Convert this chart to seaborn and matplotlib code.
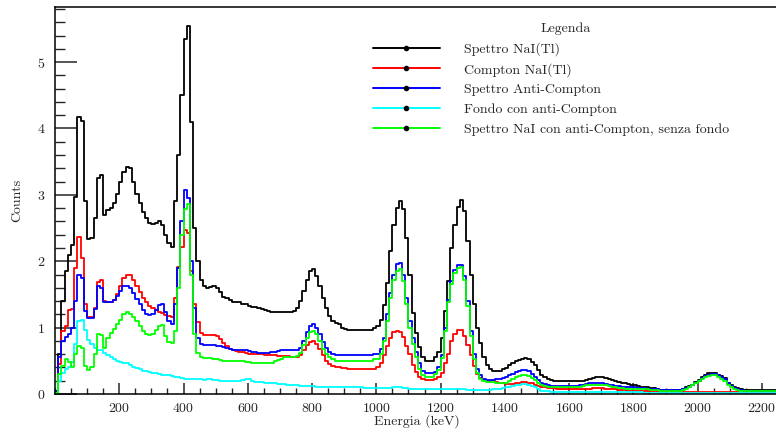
import numpy as np
import pandas as pd
import matplotlib
matplotlib.use("Agg")
import matplotlib.pyplot as plt
import seaborn as sns
from matplotlib.lines import Line2D
from matplotlib.ticker import MultipleLocator

BIN_WIDTH = 10  # keV

labels = [
    "Spettro NaI(Tl)",
    "Compton NaI(Tl)",
    "Spettro Anti-Compton",
    "Fondo con anti-Compton",
    "Spettro NaI con anti-Compton, senza fondo",
]
colors = ["#000000", "#ff0000", "#0000ff", "#00ffff", "#00ff00"]

black = [
    0.05, 0.6, 1.4, 1.85, 2.1, 2.25, 2.97, 4.18, 4.12, 2.9,
    2.33, 2.35, 2.65, 3.25, 3.3, 2.7, 2.77, 2.8, 2.88, 3.02,
    3.2, 3.35, 3.42, 3.4, 3.2, 3.02, 2.88, 2.74, 2.65, 2.57,
    2.56, 2.58, 2.6, 2.55, 2.4, 2.28, 2.22, 2.9, 3.6, 4.5,
    5.35, 5.54, 4.1, 2.5, 2.0, 1.72, 1.62, 1.6, 1.61, 1.62,
    1.6, 1.54, 1.46, 1.44, 1.42, 1.39, 1.38, 1.38, 1.36, 1.35,
    1.32, 1.31, 1.31, 1.30, 1.28, 1.26, 1.25, 1.24, 1.24, 1.23,
    1.24, 1.23, 1.24, 1.24, 1.25, 1.3, 1.4, 1.55, 1.72, 1.85,
    1.88, 1.78, 1.62, 1.45, 1.3, 1.18, 1.1, 1.07, 1.05, 1.0,
    0.98, 0.97, 0.96, 0.96, 0.96, 0.96, 0.96, 0.96, 0.97, 0.99,
    1.02, 1.11, 1.34, 1.67, 2.15, 2.54, 2.8, 2.91, 2.78, 2.35,
    1.8, 1.22, 0.92, 0.71, 0.56, 0.5, 0.49, 0.5, 0.55, 0.63,
    0.85, 1.25, 1.7, 2.2, 2.55, 2.82, 2.92, 2.75, 2.3, 1.8,
    1.35, 1.0, 0.77, 0.56, 0.44, 0.38, 0.35, 0.34, 0.35, 0.37,
    0.39, 0.43, 0.47, 0.49, 0.51, 0.53, 0.54, 0.52, 0.48, 0.44,
    0.36, 0.29, 0.25, 0.22, 0.21, 0.2, 0.2, 0.2, 0.2, 0.2,
    0.2, 0.2, 0.2, 0.2, 0.2, 0.21, 0.23, 0.24, 0.25, 0.25,
    0.25, 0.24, 0.22, 0.21, 0.19, 0.18, 0.17, 0.16, 0.15, 0.14,
    0.13, 0.12, 0.11, 0.1, 0.1, 0.09, 0.085, 0.07, 0.06, 0.06,
    0.06, 0.06, 0.06, 0.06, 0.06, 0.08, 0.1, 0.12, 0.14, 0.18,
    0.21, 0.25, 0.28, 0.31, 0.32, 0.32, 0.29, 0.27, 0.24, 0.17,
    0.13, 0.1, 0.085, 0.07, 0.06, 0.06, 0.06, 0.06, 0.06, 0.06,
    0.06, 0.06, 0.06, 0.06, 0.06,
]

red = [
    0.05, 0.45, 0.95, 1.03, 1.27, 1.28, 1.9, 2.37, 2.05, 1.35,
    1.16, 1.16, 1.3, 1.68, 1.72, 1.4, 1.39, 1.39, 1.42, 1.5,
    1.62, 1.75, 1.79, 1.79, 1.72, 1.63, 1.53, 1.45, 1.39, 1.33,
    1.3, 1.26, 1.24, 1.22, 1.19, 1.17, 1.16, 1.45, 1.92, 2.22,
    2.47, 2.42, 1.85, 1.35, 1.08, 0.92, 0.89, 0.89, 0.89, 0.89,
    0.87, 0.83, 0.77, 0.72, 0.68, 0.66, 0.65, 0.64, 0.63, 0.62,
    0.61, 0.61, 0.6, 0.6, 0.6, 0.59, 0.59, 0.58, 0.58, 0.57,
    0.57, 0.57, 0.57, 0.56, 0.56, 0.56, 0.58, 0.66, 0.74, 0.79,
    0.8, 0.76, 0.68, 0.58, 0.5, 0.45, 0.42, 0.41, 0.4, 0.39,
    0.39, 0.38, 0.38, 0.37, 0.37, 0.37, 0.37, 0.37, 0.37, 0.38,
    0.4, 0.46, 0.58, 0.72, 0.85, 0.93, 0.95, 0.94, 0.86, 0.72,
    0.6, 0.43, 0.33, 0.26, 0.22, 0.21, 0.21, 0.21, 0.22, 0.25,
    0.32, 0.46, 0.6, 0.8, 0.9, 0.96, 0.96, 0.88, 0.74, 0.58,
    0.42, 0.3, 0.24, 0.21, 0.19, 0.19, 0.19, 0.18, 0.17, 0.16,
    0.15, 0.15, 0.15, 0.16, 0.17, 0.18, 0.18, 0.17, 0.16, 0.14,
    0.12, 0.11, 0.1, 0.09, 0.09, 0.09, 0.08, 0.08, 0.08, 0.08,
    0.08, 0.08, 0.08, 0.08, 0.08, 0.08, 0.08, 0.09, 0.09, 0.09,
    0.09, 0.08, 0.08, 0.07, 0.07, 0.06, 0.06, 0.06, 0.05, 0.05,
    0.05, 0.05, 0.04, 0.04, 0.04, 0.04, 0.04, 0.04, 0.03, 0.03,
    0.03, 0.03, 0.03, 0.03, 0.03, 0.03, 0.03, 0.03, 0.03, 0.03,
    0.03, 0.03, 0.03, 0.03, 0.03, 0.03, 0.03, 0.03, 0.03, 0.03,
    0.03, 0.03, 0.03, 0.02, 0.02, 0.02, 0.02, 0.02, 0.02, 0.02,
    0.02, 0.02, 0.02, 0.02, 0.02,
]

blue = [
    0.05, 0.55, 0.8, 0.86, 0.91, 1.0, 1.4, 1.79, 1.75, 1.25,
    1.15, 1.15, 1.28, 1.62, 1.6, 1.38, 1.39, 1.39, 1.42, 1.48,
    1.55, 1.62, 1.63, 1.6, 1.52, 1.43, 1.36, 1.27, 1.2, 1.19,
    1.2, 1.26, 1.34, 1.35, 1.24, 1.1, 1.06, 1.35, 1.9, 2.6,
    3.07, 2.95, 2.0, 1.3, 0.85, 0.75, 0.74, 0.74, 0.74, 0.74,
    0.73, 0.72, 0.71, 0.7, 0.68, 0.67, 0.66, 0.66, 0.66, 0.66,
    0.65, 0.64, 0.63, 0.62, 0.62, 0.62, 0.62, 0.63, 0.64, 0.65,
    0.66, 0.66, 0.66, 0.66, 0.66, 0.67, 0.7, 0.8, 0.93, 1.03,
    1.06, 1.0, 0.9, 0.78, 0.7, 0.64, 0.61, 0.59, 0.58, 0.58,
    0.58, 0.58, 0.58, 0.58, 0.58, 0.58, 0.58, 0.58, 0.59, 0.6,
    0.6, 0.68, 0.85, 1.2, 1.52, 1.8, 1.96, 1.98, 1.8, 1.45,
    1.1, 0.85, 0.64, 0.46, 0.34, 0.31, 0.31, 0.31, 0.33, 0.4,
    0.58, 1.0, 1.42, 1.7, 1.87, 1.94, 1.95, 1.78, 1.4, 0.95,
    0.6, 0.38, 0.28, 0.23, 0.21, 0.21, 0.21, 0.22, 0.23, 0.24,
    0.26, 0.28, 0.3, 0.33, 0.35, 0.36, 0.36, 0.34, 0.3, 0.26,
    0.21, 0.17, 0.15, 0.13, 0.12, 0.12, 0.12, 0.12, 0.12, 0.12,
    0.12, 0.12, 0.12, 0.13, 0.14, 0.15, 0.16, 0.16, 0.16, 0.16,
    0.16, 0.15, 0.14, 0.13, 0.12, 0.12, 0.11, 0.11, 0.1, 0.1,
    0.1, 0.09, 0.09, 0.09, 0.08, 0.08, 0.07, 0.07, 0.06, 0.06,
    0.06, 0.06, 0.06, 0.06, 0.06, 0.07, 0.09, 0.11, 0.14, 0.17,
    0.2, 0.24, 0.27, 0.29, 0.3, 0.3, 0.28, 0.25, 0.22, 0.16,
    0.12, 0.09, 0.07, 0.06, 0.05, 0.05, 0.05, 0.05, 0.05, 0.05,
    0.05, 0.05, 0.05, 0.05, 0.05,
]

cyan = [
    0.02, 0.2, 0.32, 0.38, 0.4, 0.48, 0.75, 1.1, 1.12, 0.96,
    0.82, 0.76, 0.7, 0.66, 0.66, 0.62, 0.58, 0.56, 0.52, 0.5,
    0.48, 0.47, 0.46, 0.44, 0.41, 0.39, 0.37, 0.35, 0.34, 0.33,
    0.31, 0.31, 0.3, 0.29, 0.29, 0.28, 0.27, 0.26, 0.26, 0.24,
    0.23, 0.22, 0.23, 0.22, 0.22, 0.22, 0.21, 0.22, 0.22, 0.21,
    0.21, 0.2, 0.2, 0.2, 0.2, 0.19, 0.2, 0.2, 0.21, 0.22,
    0.22, 0.2, 0.18, 0.18, 0.18, 0.17, 0.17, 0.16, 0.16, 0.15,
    0.15, 0.15, 0.14, 0.14, 0.13, 0.13, 0.12, 0.12, 0.12, 0.12,
    0.12, 0.11, 0.11, 0.11, 0.11, 0.11, 0.1, 0.1, 0.1, 0.1,
    0.1, 0.1, 0.1, 0.1, 0.1, 0.1, 0.09, 0.09, 0.09, 0.09,
    0.09, 0.09, 0.09, 0.09, 0.09, 0.1, 0.1, 0.1, 0.09, 0.09,
    0.08, 0.08, 0.08, 0.08, 0.07, 0.07, 0.07, 0.07, 0.07, 0.07,
    0.07, 0.07, 0.07, 0.07, 0.07, 0.07, 0.07, 0.07, 0.06, 0.06,
    0.06, 0.06, 0.06, 0.06, 0.06, 0.06, 0.07, 0.07, 0.08, 0.09,
    0.1, 0.11, 0.12, 0.13, 0.14, 0.15, 0.15, 0.14, 0.12, 0.1,
    0.07, 0.05, 0.04, 0.04, 0.03, 0.03, 0.03, 0.03, 0.03, 0.03,
    0.03, 0.03, 0.03, 0.03, 0.03, 0.03, 0.03, 0.03, 0.03, 0.03,
    0.03, 0.03, 0.03, 0.03, 0.03, 0.03, 0.03, 0.03, 0.03, 0.03,
    0.03, 0.03, 0.03, 0.02, 0.02, 0.02, 0.02, 0.02, 0.02, 0.02,
    0.02, 0.02, 0.02, 0.02, 0.02, 0.02, 0.02, 0.02, 0.02, 0.02,
    0.02, 0.02, 0.02, 0.02, 0.02, 0.02, 0.02, 0.02, 0.02, 0.02,
    0.02, 0.02, 0.02, 0.02, 0.02, 0.02, 0.02, 0.02, 0.02, 0.02,
    0.02, 0.02, 0.02, 0.02, 0.02,
]

green = [
    0.02, 0.3, 0.42, 0.53, 0.48, 0.41, 0.6, 0.73, 0.7, 0.42,
    0.36, 0.4, 0.6, 0.91, 0.89, 0.7, 0.84, 0.92, 0.98, 1.05,
    1.12, 1.2, 1.23, 1.2, 1.16, 1.1, 1.03, 0.95, 0.9, 0.89,
    0.9, 0.96, 1.03, 1.04, 0.88, 0.78, 0.77, 0.95, 1.6, 2.4,
    2.78, 2.86, 1.8, 0.9, 0.62, 0.55, 0.54, 0.54, 0.54, 0.53,
    0.52, 0.51, 0.5, 0.49, 0.49, 0.49, 0.49, 0.49, 0.49, 0.48,
    0.48, 0.47, 0.47, 0.46, 0.46, 0.46, 0.46, 0.47, 0.49, 0.51,
    0.53, 0.55, 0.55, 0.56, 0.56, 0.57, 0.62, 0.74, 0.85, 0.93,
    0.95, 0.9, 0.8, 0.68, 0.6, 0.55, 0.52, 0.5, 0.49, 0.49,
    0.49, 0.49, 0.49, 0.49, 0.49, 0.49, 0.49, 0.49, 0.5, 0.52,
    0.52, 0.6, 0.8, 1.1, 1.44, 1.72, 1.86, 1.88, 1.7, 1.36,
    1.0, 0.76, 0.55, 0.38, 0.28, 0.26, 0.26, 0.26, 0.3, 0.36,
    0.54, 0.95, 1.38, 1.65, 1.82, 1.9, 1.91, 1.72, 1.32, 0.88,
    0.52, 0.32, 0.22, 0.19, 0.18, 0.18, 0.18, 0.17, 0.17, 0.16,
    0.17, 0.2, 0.23, 0.25, 0.27, 0.28, 0.28, 0.27, 0.24, 0.21,
    0.17, 0.14, 0.12, 0.11, 0.1, 0.1, 0.1, 0.1, 0.1, 0.1,
    0.1, 0.1, 0.1, 0.11, 0.12, 0.13, 0.14, 0.14, 0.14, 0.14,
    0.14, 0.13, 0.12, 0.11, 0.1, 0.09, 0.09, 0.08, 0.08, 0.08,
    0.08, 0.07, 0.07, 0.07, 0.07, 0.06, 0.06, 0.06, 0.05, 0.05,
    0.05, 0.05, 0.05, 0.05, 0.05, 0.06, 0.08, 0.1, 0.13, 0.16,
    0.19, 0.22, 0.25, 0.27, 0.28, 0.28, 0.26, 0.23, 0.2, 0.14,
    0.1, 0.08, 0.06, 0.05, 0.05, 0.04, 0.04, 0.04, 0.04, 0.04,
    0.04, 0.04, 0.04, 0.04, 0.04,
]

x_ticks = [200, 400, 600, 800, 1000, 1200, 1400, 1600, 1800, 2000, 2200]
y_ticks = [0, 1, 2, 3, 4, 5]

series = [black, red, blue, cyan, green]
n = len(black)
centers = np.arange(n) * BIN_WIDTH + BIN_WIDTH / 2.0

rows = []
for lab, vals in zip(labels, series):
    for c, v in zip(centers, vals):
        rows.append({"energy": c, "counts": v, "series": lab})
df = pd.DataFrame(rows)

sns.set_style("ticks")
plt.rcParams["font.family"] = ["cmr10", "DejaVu Serif"]
plt.rcParams["mathtext.fontset"] = "cm"
plt.rcParams["axes.formatter.use_mathtext"] = True
plt.rcParams["axes.unicode_minus"] = False

fig = plt.figure(figsize=(7.76, 4.33), dpi=100)
ax = fig.add_axes([55 / 776, 39 / 433, 723 / 776, 387 / 433])

for lab, col in zip(labels, colors):
    sub = df[df["series"] == lab]
    sns.histplot(data=sub, x="energy", weights="counts",
                 binwidth=BIN_WIDTH, binrange=(0, n * BIN_WIDTH),
                 element="step", fill=False, color=col, linewidth=1.3, ax=ax)

ax.set_xlim(0, 2250)
ax.set_ylim(0, 5.83)
ax.set_xticks(x_ticks)
ax.set_yticks(y_ticks)
ax.xaxis.set_minor_locator(MultipleLocator(50))
ax.yaxis.set_minor_locator(MultipleLocator(0.2))
ax.tick_params(axis="x", which="major", direction="in", length=8, width=1.1,
               top=False, labelsize=10, pad=6)
ax.tick_params(axis="x", which="minor", direction="in", length=4, width=1.0, top=False)
ax.tick_params(axis="y", which="major", direction="in", length=16, width=1.1,
               right=False, labelsize=10, pad=7)
ax.tick_params(axis="y", which="minor", direction="in", length=7, width=1.0, right=False)
for s in ["left", "bottom", "top"]:
    ax.spines[s].set_linewidth(1.1)
    ax.spines[s].set_color("black")
ax.spines["right"].set_visible(False)

ax.set_xlabel("Energia (keV)", fontsize=10, labelpad=-1)
ax.set_ylabel("Counts", fontsize=10, labelpad=10)

handles = [Line2D([0], [0], color=c, lw=1.4, marker="o", markersize=3,
                  markerfacecolor="black", markeredgecolor="black") for c in colors]
ax.legend(handles, labels, loc="upper left",
          bbox_to_anchor=(373 / 776, 1 - 42 / 433), bbox_transform=fig.transFigure,
          frameon=False, handlelength=4.8, handletextpad=1.75, labelspacing=0.5,
          borderpad=0, borderaxespad=0, fontsize=10, numpoints=1)
fig.text(566 / 776, 1 - 29 / 433, "Legenda", ha="center", va="center", fontsize=10)

fig.savefig("out.png", dpi=100)
